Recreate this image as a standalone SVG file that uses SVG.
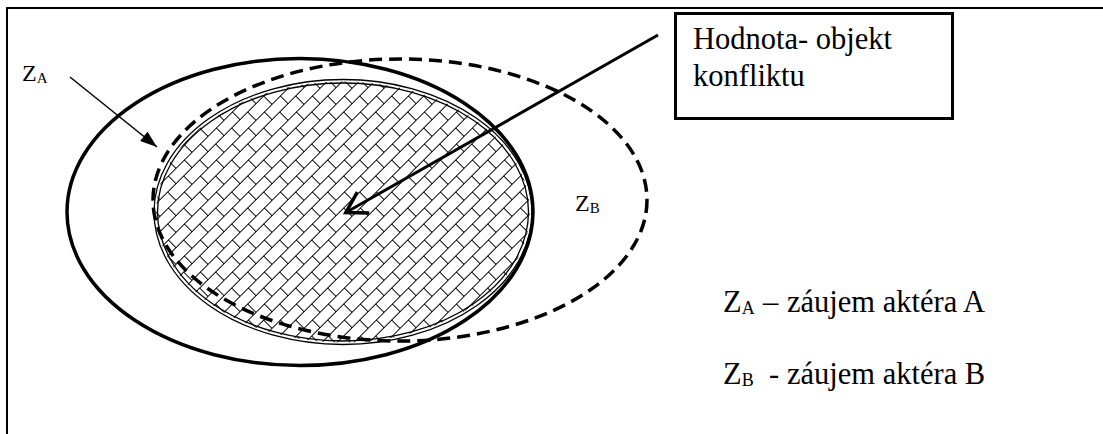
<svg xmlns="http://www.w3.org/2000/svg" width="1103" height="434" viewBox="0 0 1103 434">
<style>
  .t{font-family:"Liberation Serif","Times New Roman",serif;fill:#000}
  .thick{fill:none;stroke:#000;stroke-width:3.5}
  .dash{fill:none;stroke:#000;stroke-width:3.5;stroke-dasharray:13 7}
  .thin{fill:none;stroke:#000;stroke-width:1.3}
  .conn{fill:none;stroke:#000}
</style>
<defs>
  <pattern id="brick" patternUnits="userSpaceOnUse" width="22.63" height="22.63" patternTransform="rotate(-45)">
    <path d="M-1 5.66H23.63M-1 16.97H23.63M5.66 5.66V16.97M16.97 16.97V23.63M16.97 -1V5.66" stroke="#000" stroke-width="1.1" fill="none" shape-rendering="crispEdges"/>
  </pattern>
  <marker id="tri" viewBox="0 0 17 12" refX="17" refY="6" markerWidth="17" markerHeight="12" orient="auto" markerUnits="userSpaceOnUse">
    <path d="M0 0L17 6L0 12z" fill="#000"/>
  </marker>
  <marker id="vee" viewBox="-3 -16 28 32" refX="21" refY="0" markerWidth="28" markerHeight="32" orient="auto" markerUnits="userSpaceOnUse" overflow="visible">
    <path d="M0 -12L20 0L0 12" fill="none" stroke="#000" stroke-width="3.5"/>
  </marker>
</defs>
<rect width="1103" height="434" fill="#fff"/>
<g id="frame"><path d="M7 434V8H1103" fill="none" stroke="#000" stroke-width="2"/></g>

<g id="conflict-object">
  <ellipse cx="343" cy="212" rx="187" ry="130.5" fill="url(#brick)"/>
  <ellipse class="thin" cx="343" cy="212" rx="189" ry="132.5"/>
  <ellipse class="thin" cx="343" cy="212" rx="185.5" ry="129"/>
</g>
<g id="interest-A">
  <ellipse class="thick" cx="300" cy="212" rx="233" ry="153.5"/>
</g>
<g id="interest-B">
  <ellipse class="dash" cx="400" cy="200" rx="247" ry="141"/>
</g>

<g id="value-box">
  <rect x="675.5" y="13.5" width="277" height="105" fill="#fff" stroke="#000" stroke-width="3"/>
  <text class="t" font-size="30.5" x="693" y="49">Hodnota- objekt</text>
  <text class="t" font-size="30.5" x="693" y="86">konfliktu</text>
</g>

<g id="label-ZA"><text class="t" font-size="24" x="22" y="81">Z<tspan font-size="15" dy="1.5">A</tspan></text></g>
<g id="label-ZB"><text class="t" font-size="24" x="575" y="211">Z<tspan font-size="15" dy="1.5">B</tspan></text></g>

<g id="legend">
  <text class="t" font-size="30.5" x="723" y="312">Z<tspan font-size="18" dy="1.5">A</tspan><tspan x="763" dy="-1.5">–</tspan><tspan x="787">záujem aktéra A</tspan></text>
  <text class="t" font-size="30.5" x="723" y="384">Z<tspan font-size="18" dy="1.5">B</tspan><tspan x="769" dy="-1.5">-</tspan><tspan x="787">záujem aktéra B</tspan></text>
</g>

<g id="connectors">
  <path class="conn" stroke-width="1.5" d="M70 77L157 147" marker-end="url(#tri)"/>
  <path class="conn" stroke-width="3" d="M658 35L345 213" marker-end="url(#vee)"/>
</g>
</svg>
